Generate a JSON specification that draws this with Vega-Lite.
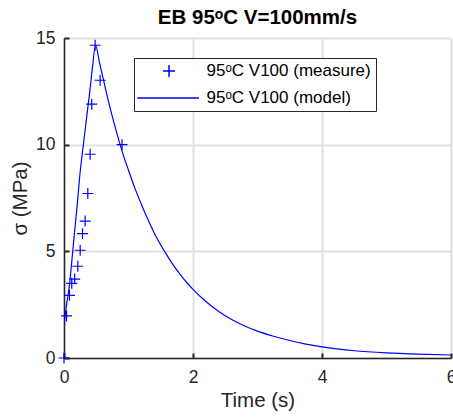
{
  "$schema": "https://vega.github.io/schema/vega-lite/v6.json",
  "width": 387,
  "height": 320,
  "autosize": "none",
  "padding": {"left": 64, "top": 38, "right": 2, "bottom": 62},
  "background": "white",
  "title": {
    "text": "EB 95ᵒC V=100mm/s",
    "font": "Liberation Sans",
    "fontSize": 20.5,
    "fontWeight": "bold",
    "color": "#000000",
    "anchor": "middle",
    "offset": 1
  },
  "datasets": {
    "measure": [
      {"t": 0, "s": 0, "series": "95ᵒC V100 (measure)"},
      {"t": 0.04, "s": 1.97, "series": "95ᵒC V100 (measure)"},
      {"t": 0.085, "s": 2.94, "series": "95ᵒC V100 (measure)"},
      {"t": 0.12, "s": 3.5, "series": "95ᵒC V100 (measure)"},
      {"t": 0.165, "s": 3.7, "series": "95ᵒC V100 (measure)"},
      {"t": 0.214, "s": 4.3, "series": "95ᵒC V100 (measure)"},
      {"t": 0.251, "s": 5.05, "series": "95ᵒC V100 (measure)"},
      {"t": 0.287, "s": 5.83, "series": "95ᵒC V100 (measure)"},
      {"t": 0.328, "s": 6.42, "series": "95ᵒC V100 (measure)"},
      {"t": 0.369, "s": 7.71, "series": "95ᵒC V100 (measure)"},
      {"t": 0.405, "s": 9.55, "series": "95ᵒC V100 (measure)"},
      {"t": 0.43, "s": 11.9, "series": "95ᵒC V100 (measure)"},
      {"t": 0.483, "s": 14.66, "series": "95ᵒC V100 (measure)"},
      {"t": 0.56, "s": 13.02, "series": "95ᵒC V100 (measure)"},
      {"t": 0.9, "s": 10.0, "series": "95ᵒC V100 (measure)"}
    ],
    "model": [
      {"t": 0, "s": 1.5, "series": "95ᵒC V100 (model)"},
      {"t": 0.04, "s": 2.5, "series": "95ᵒC V100 (model)"},
      {"t": 0.08, "s": 3.3, "series": "95ᵒC V100 (model)"},
      {"t": 0.12, "s": 4.5, "series": "95ᵒC V100 (model)"},
      {"t": 0.16, "s": 5.8, "series": "95ᵒC V100 (model)"},
      {"t": 0.2, "s": 7.0, "series": "95ᵒC V100 (model)"},
      {"t": 0.24, "s": 8.4, "series": "95ᵒC V100 (model)"},
      {"t": 0.28, "s": 9.5, "series": "95ᵒC V100 (model)"},
      {"t": 0.32, "s": 10.5, "series": "95ᵒC V100 (model)"},
      {"t": 0.36, "s": 11.5, "series": "95ᵒC V100 (model)"},
      {"t": 0.4, "s": 12.5, "series": "95ᵒC V100 (model)"},
      {"t": 0.44, "s": 13.6, "series": "95ᵒC V100 (model)"},
      {"t": 0.49, "s": 14.66, "series": "95ᵒC V100 (model)"},
      {"t": 0.55, "s": 13.85, "series": "95ᵒC V100 (model)"},
      {"t": 0.6, "s": 13.2, "series": "95ᵒC V100 (model)"},
      {"t": 0.7, "s": 11.9, "series": "95ᵒC V100 (model)"},
      {"t": 0.8, "s": 10.75, "series": "95ᵒC V100 (model)"},
      {"t": 0.9, "s": 9.7, "series": "95ᵒC V100 (model)"},
      {"t": 1.0, "s": 8.8, "series": "95ᵒC V100 (model)"},
      {"t": 1.1, "s": 7.95, "series": "95ᵒC V100 (model)"},
      {"t": 1.2, "s": 7.2, "series": "95ᵒC V100 (model)"},
      {"t": 1.3, "s": 6.5, "series": "95ᵒC V100 (model)"},
      {"t": 1.4, "s": 5.85, "series": "95ᵒC V100 (model)"},
      {"t": 1.5, "s": 5.3, "series": "95ᵒC V100 (model)"},
      {"t": 1.6, "s": 4.8, "series": "95ᵒC V100 (model)"},
      {"t": 1.7, "s": 4.33, "series": "95ᵒC V100 (model)"},
      {"t": 1.8, "s": 3.92, "series": "95ᵒC V100 (model)"},
      {"t": 1.9, "s": 3.55, "series": "95ᵒC V100 (model)"},
      {"t": 2.0, "s": 3.22, "series": "95ᵒC V100 (model)"},
      {"t": 2.2, "s": 2.65, "series": "95ᵒC V100 (model)"},
      {"t": 2.4, "s": 2.18, "series": "95ᵒC V100 (model)"},
      {"t": 2.6, "s": 1.8, "series": "95ᵒC V100 (model)"},
      {"t": 2.8, "s": 1.5, "series": "95ᵒC V100 (model)"},
      {"t": 3.0, "s": 1.26, "series": "95ᵒC V100 (model)"},
      {"t": 3.25, "s": 1.02, "series": "95ᵒC V100 (model)"},
      {"t": 3.5, "s": 0.82, "series": "95ᵒC V100 (model)"},
      {"t": 3.75, "s": 0.65, "series": "95ᵒC V100 (model)"},
      {"t": 4.0, "s": 0.52, "series": "95ᵒC V100 (model)"},
      {"t": 4.5, "s": 0.34, "series": "95ᵒC V100 (model)"},
      {"t": 5.0, "s": 0.24, "series": "95ᵒC V100 (model)"},
      {"t": 5.5, "s": 0.18, "series": "95ᵒC V100 (model)"},
      {"t": 6.0, "s": 0.14, "series": "95ᵒC V100 (model)"}
    ]
  },
  "encoding": {
    "x": {
      "field": "t",
      "type": "quantitative",
      "scale": {"domain": [0, 6], "nice": false, "zero": false},
      "axis": {"title": "Time (s)", "values": [0, 2, 4, 6], "grid": true, "gridColor": "#e0e0e0", "gridWidth": 2, "gridOpacity": 1, "ticks": true, "tickSize": -5, "tickOpacity": 1, "tickColor": "#262626", "tickWidth": 2, "labelPadding": 15}
    },
    "y": {
      "field": "s",
      "type": "quantitative",
      "scale": {"domain": [0, 15], "nice": false},
      "axis": {"title": "σ (MPa)", "values": [0, 5, 10, 15], "grid": true, "gridColor": "#e0e0e0", "gridWidth": 2, "gridOpacity": 1, "ticks": true, "tickSize": -5, "tickOpacity": 1, "tickColor": "#262626", "tickWidth": 2, "labelPadding": 14}
    }
  },
  "layer": [
    {
      "data": {"name": "model"},
      "mark": {"type": "line", "strokeWidth": 1.2, "clip": true, "interpolate": "monotone", "color": "#0000ff"},
      "encoding": {
        "stroke": {
          "field": "series",
          "type": "nominal",
          "scale": {"domain": ["95ᵒC V100 (measure)", "95ᵒC V100 (model)"], "range": ["#0000ff", "#0000ff"]},
          "legend": {
            "title": null,
            "orient": "none",
            "legendX": 70,
            "legendY": 20,
            "padding": 4.5,
            "rowPadding": 8,
            "symbolOffset": 22,
            "symbolSize": 144,
            "symbolStrokeWidth": 1.5,
            "symbolStrokeColor": "#0000ff",
            "symbolFillColor": "transparent",
            "labelOffset": 29,
            "labelFont": "Liberation Sans",
            "labelFontSize": 17,
            "labelColor": "#000000",
            "labelLimit": 300,
            "strokeColor": "#262626",
            "fillColor": "white",
            "cornerRadius": 0
          }
        }
      }
    },
    {
      "data": {"name": "measure"},
      "mark": {"type": "point", "filled": false, "strokeWidth": 1.2, "size": 121, "opacity": 1, "color": "#0000ff"},
      "encoding": {
        "stroke": {"field": "series", "type": "nominal"},
        "shape": {
          "field": "series",
          "type": "nominal",
          "scale": {"domain": ["95ᵒC V100 (measure)", "95ᵒC V100 (model)"], "range": ["M-1,0H1M0,-1V1", "M-5.3,0H5"]},
          "legend": {"title": null}
        }
      }
    }
  ],
  "config": {
    "view": {"stroke": null},
    "axis": {
      "domainColor": "#262626",
      "domainWidth": 1.5,
      "labelFont": "Liberation Sans",
      "labelFontSize": 17.5,
      "labelColor": "#262626",
      "titleFont": "Liberation Sans",
      "titleFontSize": 20.5,
      "titleFontWeight": "normal",
      "titleColor": "#262626"
    },
    "axisX": {"titlePadding": 5, "labelFlush": false},
    "axisY": {"titlePadding": 5, "labelFlush": false}
  }
}
